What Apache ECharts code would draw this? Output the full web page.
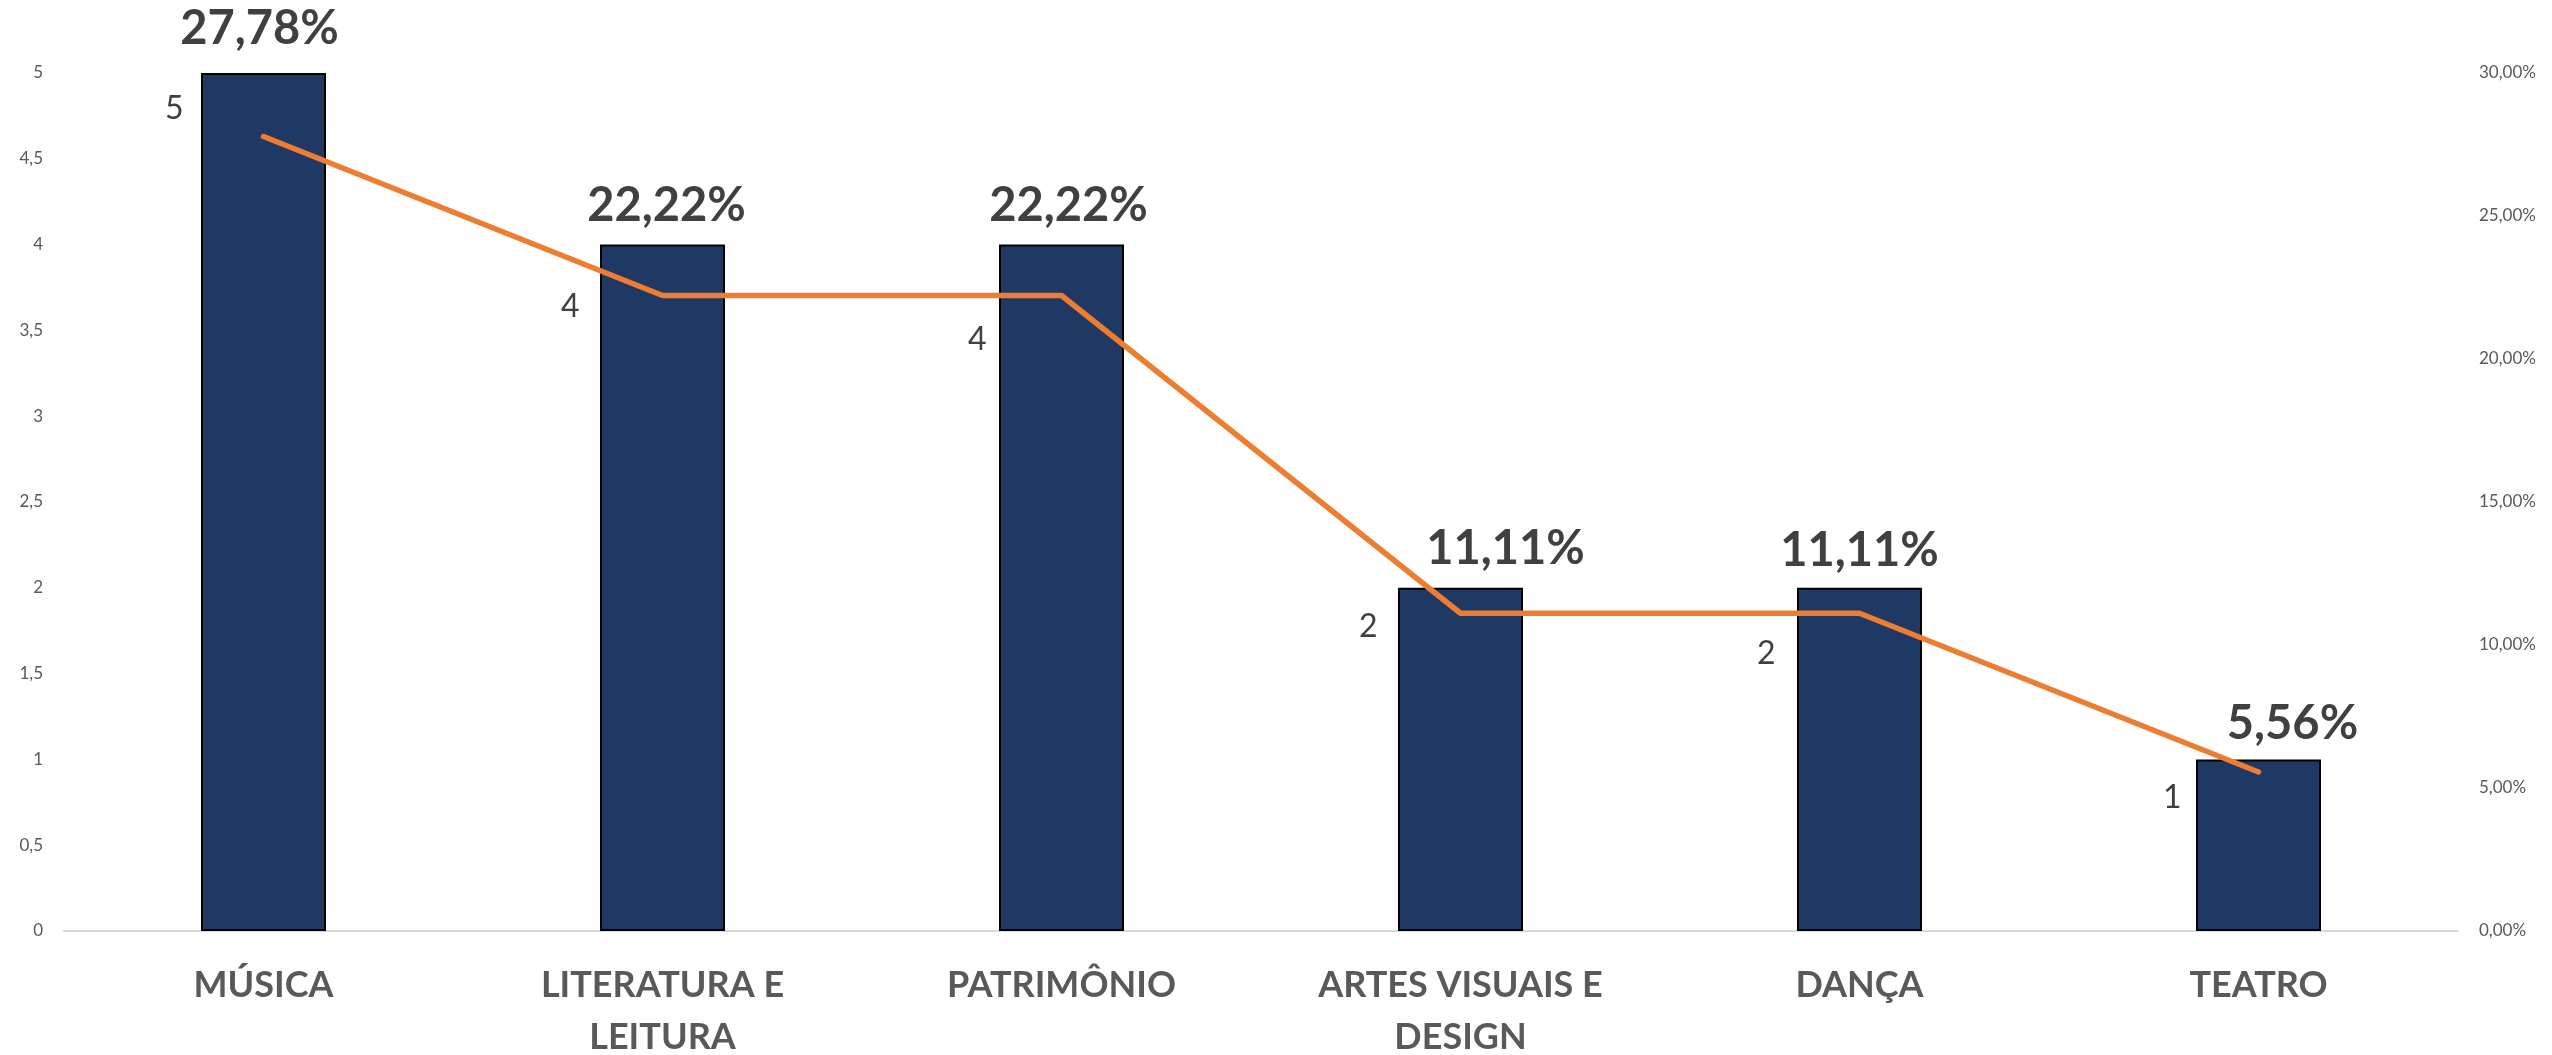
<!DOCTYPE html>
<html>
<head>
<meta charset="utf-8">
<script src="https://cdn.jsdelivr.net/npm/echarts@6/dist/echarts.min.js"></script>
<style>
    html, body { margin: 0; padding: 0; background: #fff; }
    #chart { width: 2552px; height: 1055px; }
</style>
</head>
<body>
<div id="chart"></div>
<script>
// categories and values
const categories = ['MÚSICA', 'LITERATURA E\nLEITURA', 'PATRIMÔNIO', 'ARTES VISUAIS E\nDESIGN', 'DANÇA', 'TEATRO'];
const counts = [5, 4, 4, 2, 2, 1];
const percents = [27.78, 22.22, 22.22, 11.11, 11.11, 5.56];

// hand-placed labels in the original, nudged per item (px)
const pctNudge = [[-4, -6], [4, 0], [7, 0], [45, 0], [0, 2], [34, 3]];
const countNudge = [[-80, -28], [-83, 11], [-75, 44], [-83, 13], [-84, 40], [-77, 26]];

const FONT = 'Lato, "Open Sans", sans-serif';
const comma = (s) => String(s).replace('.', ',');

const chart = echarts.init(document.getElementById('chart'));
chart.setOption({
    animation: false,
    backgroundColor: '#ffffff',
    textStyle: { fontFamily: FONT },
    grid: { left: 64, right: 94, top: 73, bottom: 124, containLabel: false, outerBoundsMode: 'none' },
    xAxis: {
        type: 'category',
        data: categories,
        axisTick: { show: false },
        axisLine: { lineStyle: { color: '#D9D9D9', width: 2 } },
        axisLabel: {
            color: '#595959',
            fontFamily: FONT,
            fontWeight: 'bold',
            fontSize: 36,
            lineHeight: 52,
            margin: 28,
            interval: 0,
        },
    },
    yAxis: [
        {
            type: 'value',
            min: 0,
            max: 5,
            interval: 0.5,
            splitLine: { show: false },
            axisLine: { show: false },
            axisTick: { show: false },
            axisLabel: {
                color: '#595959',
                fontFamily: FONT,
                fontSize: 17,
                margin: 21,
                formatter: (v) => comma(v),
            },
        },
        {
            type: 'value',
            min: 0,
            max: 30,
            interval: 5,
            splitLine: { show: false },
            axisLine: { show: false },
            axisTick: { show: false },
            axisLabel: {
                color: '#595959',
                fontFamily: FONT,
                fontSize: 17,
                margin: 21,
                formatter: (v) => comma(v.toFixed(2)) + '%',
            },
        },
    ],
    series: [
        {
            name: 'Quantidade',
            type: 'bar',
            yAxisIndex: 0,
            barWidth: 125,
            itemStyle: { color: '#203864', borderColor: '#000000', borderWidth: 2 },
            data: counts.map((v, i) => ({ value: v, label: { offset: pctNudge[i] } })),
            label: {
                show: true,
                position: 'top',
                distance: 15,
                color: '#404040',
                fontFamily: FONT,
                fontWeight: 'bold',
                fontSize: 47,
                formatter: (p) => comma(percents[p.dataIndex].toFixed(2)) + '%',
            },
            z: 2,
        },
        {
            name: 'Percentual',
            type: 'line',
            yAxisIndex: 1,
            symbol: 'circle',
            symbolSize: 1,
            showSymbol: true,
            itemStyle: { color: '#ED7D31' },
            lineStyle: { color: '#ED7D31', width: 5.5, cap: 'round', join: 'round' },
            data: percents.map((v, i) => ({ value: v, label: { offset: countNudge[i] } })),
            label: {
                show: true,
                position: 'inside',
                align: 'right',
                verticalAlign: 'middle',
                color: '#404040',
                fontFamily: FONT,
                fontSize: 32,
                formatter: (p) => String(counts[p.dataIndex]),
            },
            z: 3,
        },
    ],
});
</script>
</body>
</html>
